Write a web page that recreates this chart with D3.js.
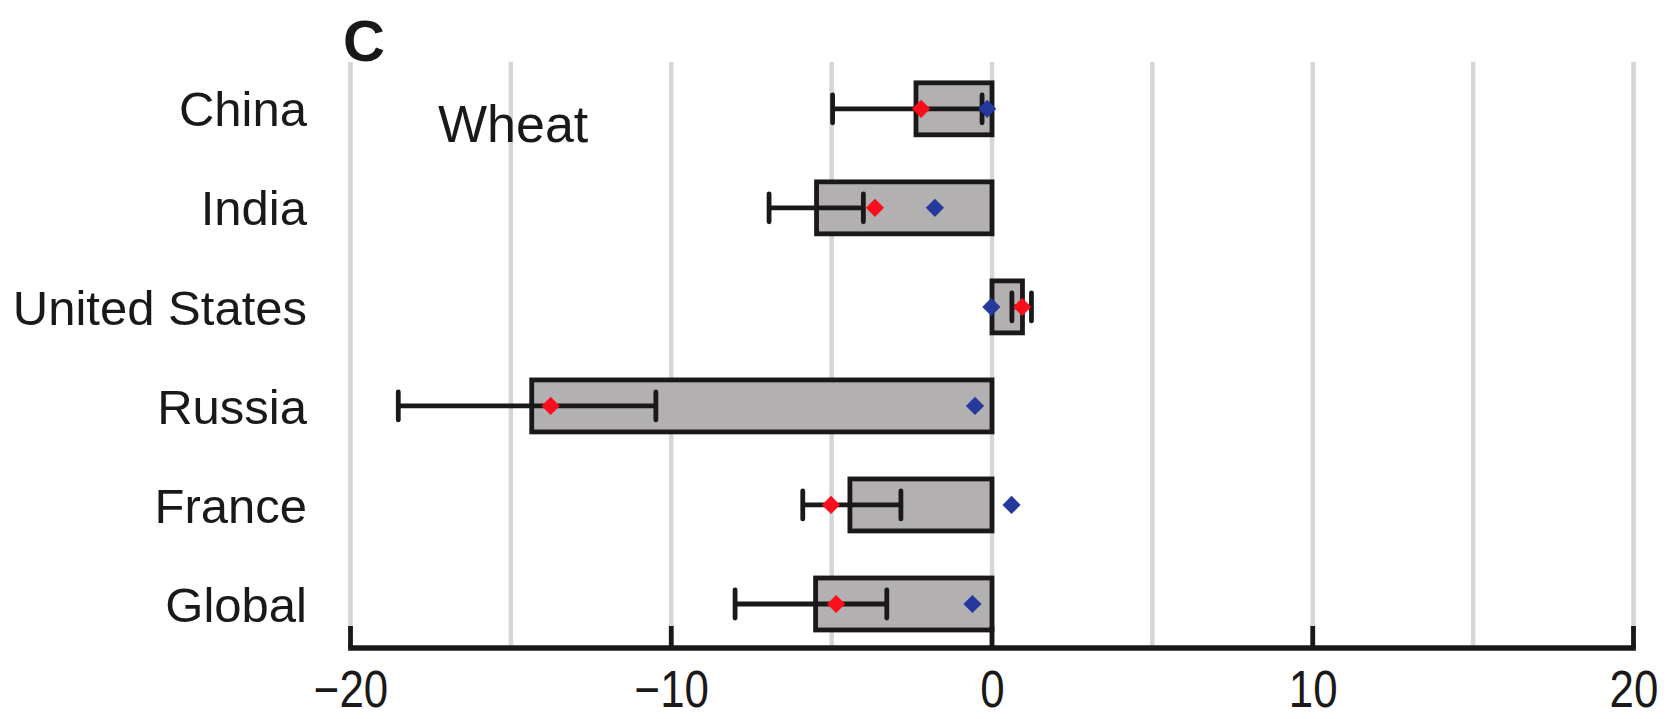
<!DOCTYPE html>
<html>
<head>
<meta charset="utf-8">
<script src="https://cdn.jsdelivr.net/npm/d3@7"></script>
<style>
  html, body { margin: 0; padding: 0; background: #fff; }
  svg { display: block; }
</style>
</head>
<body>
<svg id="chart" width="1675" height="719"></svg>
<script>
const categories = ["China", "India", "United States", "Russia", "France", "Global"];
const barValues  = [-2.37, -5.47, 0.95, -14.35, -4.43, -5.50];
const errLow     = [-4.97, -6.95, 0.62, -18.51, -5.90, -8.01];
const errHigh    = [-0.31, -4.01, 1.23, -10.48, -2.84, -3.28];
const redValues  = [-2.21, -3.65, 0.94, -13.76, -5.02, -4.86];
const blueValues = [-0.15, -1.78, -0.02, -0.53, 0.61, -0.61];
const gridTicks  = [-20, -15, -10, -5, 0, 5, 10, 15, 20];
const majorTicks = [-20, -10, 0, 10, 20];
const panelLabel = "C";
const cropLabel  = "Wheat";

const svg = d3.select("#chart");
const x = d3.scaleLinear().domain([-20, 20]).range([350.5, 1633.5]);
const y = d3.scaleBand().domain(categories).range([59.3, 653.5])
  .paddingInner(0.475).paddingOuter(0.2375);

const axisY = 648;
const ink = "#1b1819";

// gridlines
svg.append("g").selectAll("line").data(gridTicks).join("line")
  .attr("x1", d => x(d)).attr("x2", d => x(d))
  .attr("y1", 62).attr("y2", axisY)
  .attr("stroke", "#d5d5da").attr("stroke-width", 4.5);

const rows = categories.map((c, i) => ({
  c, bar: barValues[i], lo: errLow[i], hi: errHigh[i], red: redValues[i], blue: blueValues[i]
}));

// bars
svg.append("g").selectAll("rect").data(rows).join("rect")
  .attr("x", d => x(Math.min(0, d.bar)))
  .attr("width", d => Math.abs(x(d.bar) - x(0)))
  .attr("y", d => y(d.c))
  .attr("height", y.bandwidth())
  .attr("fill", "#b2b0b1")
  .attr("stroke", ink).attr("stroke-width", 4.8);

// error bars
const eb = svg.append("g").attr("stroke", ink).attr("stroke-width", 4.8);
eb.selectAll("line.h").data(rows).join("line").attr("class", "h")
  .attr("x1", d => x(d.lo)).attr("x2", d => x(d.hi))
  .attr("y1", d => y(d.c) + y.bandwidth() / 2).attr("y2", d => y(d.c) + y.bandwidth() / 2);
const capH = 28;
["lo", "hi"].forEach(k => {
  eb.selectAll("line.cap" + k).data(rows).join("line").attr("class", "cap" + k)
    .attr("x1", d => x(d[k])).attr("x2", d => x(d[k]))
    .attr("y1", d => y(d.c) + y.bandwidth() / 2 - capH / 2)
    .attr("y2", d => y(d.c) + y.bandwidth() / 2 + capH / 2)
    .attr("stroke-linecap", "round");
});

// diamonds
const diamond = d3.symbol().type(d3.symbolSquare).size(165);
svg.append("g").selectAll("path").data(rows).join("path")
  .attr("d", diamond)
  .attr("transform", d => `translate(${x(d.blue)},${y(d.c) + y.bandwidth() / 2}) rotate(45)`)
  .attr("fill", "#25389b");
svg.append("g").selectAll("path").data(rows).join("path")
  .attr("d", diamond)
  .attr("transform", d => `translate(${x(d.red)},${y(d.c) + y.bandwidth() / 2}) rotate(45)`)
  .attr("fill", "#fb0d1c");

// axis
const axis = d3.axisBottom(x).tickValues(majorTicks).tickSize(0).tickPadding(0)
  .tickFormat(d3.format("d"));
const ag = svg.append("g").attr("transform", `translate(0,${axisY})`).call(axis);
ag.select(".domain").remove();
ag.selectAll(".tick text")
  .attr("y", 0).attr("dy", 0)
  .attr("transform", "translate(0,59) scale(0.86,1)")
  .attr("font-family", "'Liberation Sans', Arial, sans-serif")
  .attr("font-size", 51).attr("fill", ink);
svg.append("line").attr("x1", x(-20) - 2.4).attr("x2", x(20) + 2.4)
  .attr("y1", axisY).attr("y2", axisY).attr("stroke", ink).attr("stroke-width", 5.5);
svg.append("g").selectAll("line").data(majorTicks).join("line")
  .attr("x1", d => x(d)).attr("x2", d => x(d))
  .attr("y1", axisY - 22).attr("y2", axisY)
  .attr("stroke", ink).attr("stroke-width", 4.8);

// category labels
svg.append("g").selectAll("text").data(categories).join("text")
  .attr("x", 307)
  .attr("y", d => y(d) + y.bandwidth() / 2)
  .attr("dy", "0.36em")
  .attr("text-anchor", "end")
  .attr("font-family", "'Liberation Sans', Arial, sans-serif")
  .attr("font-size", 49).attr("fill", ink)
  .text(d => d);

svg.append("text").attr("x", 438).attr("y", 142)
  .attr("font-family", "'Liberation Sans', Arial, sans-serif")
  .attr("font-size", 52).attr("fill", ink).text(cropLabel);

svg.append("text").attr("x", 343).attr("y", 61)
  .attr("font-family", "'Liberation Sans', Arial, sans-serif")
  .attr("font-weight", "bold")
  .attr("font-size", 58).attr("fill", ink).text(panelLabel);
</script>
</body>
</html>
